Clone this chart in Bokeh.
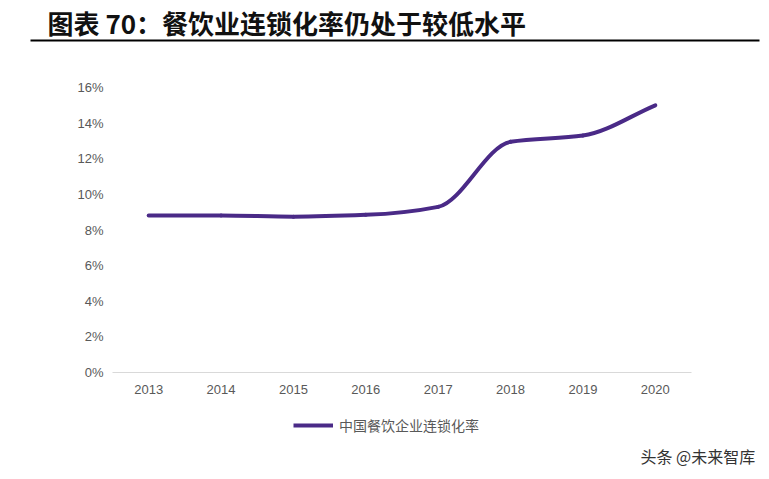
from bokeh.plotting import figure
from bokeh.models import (Range1d, FixedTicker, NumeralTickFormatter, Label, BoxAnnotation,
                          Legend, LegendItem, ColumnDataSource, LinearAxis)
from bokeh.embed import file_html
from bokeh.resources import INLINE

# ---- data ----
years = ["2013", "2014", "2015", "2016", "2017", "2018", "2019", "2020"]
chain_rate = [0.0882, 0.0882, 0.0875, 0.0885, 0.093, 0.1295, 0.133, 0.150]
y_ticks = [0, 0.02, 0.04, 0.06, 0.08, 0.10, 0.12, 0.14, 0.16]
series_name = "中国餐饮企业连锁化率"
title_text = "图表 70：餐饮业连锁化率仍处于较低水平"
watermark = "头条 @未来智库"

LINE_COLOR = "#4a2a87"
TXT = "#595959"

# canvas and plotting-area placement (pixels)
W, H = 761, 471
PL, PR, PT, PB = 112, 691, 87, 372
X0, X1 = -0.5, len(years) - 0.5
Y0, Y1 = 0.0, 0.16
sx = (PR - PL) / (X1 - X0)
sy = (PB - PT) / (Y1 - Y0)

# frame covers the whole canvas; axes are pinned inside it
p = figure(width=W, height=H, output_backend="svg", toolbar_location=None,
           x_range=Range1d(X0 - PL / sx, X1 + (W - PR) / sx),
           y_range=Range1d(Y0 - (H - PB) / sy, Y1 + PT / sy),
           min_border=0, x_axis_type=None, y_axis_type=None)
p.outline_line_color = None
p.grid.visible = False

# smoothed line: cubic bezier segments through the data points (monotone tangents)
xs = list(range(len(years)))
n = len(xs)
d = [chain_rate[i + 1] - chain_rate[i] for i in range(n - 1)]
m = [0.0] * n
m[0], m[-1] = d[0], d[-1]
for i in range(1, n - 1):
    m[i] = 0.0 if d[i - 1] * d[i] <= 0 else 2.0 / (1.0 / d[i - 1] + 1.0 / d[i])
seg = dict(x0=[], y0=[], x1=[], y1=[], cx0=[], cy0=[], cx1=[], cy1=[])
for i in range(n - 1):
    seg["x0"].append(xs[i]); seg["y0"].append(chain_rate[i])
    seg["x1"].append(xs[i + 1]); seg["y1"].append(chain_rate[i + 1])
    seg["cx0"].append(xs[i] + 1 / 3); seg["cy0"].append(chain_rate[i] + m[i] / 3)
    seg["cx1"].append(xs[i + 1] - 1 / 3); seg["cy1"].append(chain_rate[i + 1] - m[i + 1] / 3)
p.bezier(x0="x0", y0="y0", x1="x1", y1="y1", cx0="cx0", cy0="cy0", cx1="cx1", cy1="cy1",
         source=ColumnDataSource(seg), line_color=LINE_COLOR, line_width=4, line_cap="round")

# x axis pinned at y = 0
xaxis = LinearAxis(ticker=FixedTicker(ticks=xs), fixed_location=Y0, bounds=(X0, X1),
                   major_label_overrides={i: y for i, y in enumerate(years)},
                   axis_line_color="#d9d9d9", major_tick_line_color=None,
                   major_tick_out=0, major_tick_in=0, minor_tick_line_color=None,
                   major_label_standoff=12, major_label_text_font="Liberation Sans",
                   major_label_text_font_size="13px", major_label_text_color=TXT)
p.add_layout(xaxis, "below")

# y axis pinned at the left edge of the plotting area
yaxis = LinearAxis(ticker=FixedTicker(ticks=y_ticks), fixed_location=X0, bounds=(Y0, Y1),
                   formatter=NumeralTickFormatter(format="0%"),
                   axis_line_color=None, major_tick_line_color=None,
                   major_tick_out=0, major_tick_in=0, minor_tick_line_color=None,
                   major_label_standoff=9, major_label_text_font="Liberation Sans",
                   major_label_text_font_size="13px", major_label_text_color=TXT)
p.add_layout(yaxis, "left")

# legend (proxy line draws nothing)
proxy = p.line(x=[float("nan")], y=[float("nan")], line_color=LINE_COLOR, line_width=4)
legend = Legend(items=[LegendItem(label=series_name, renderers=[proxy])],
                location=(293, H - 425 - 10), orientation="horizontal",
                glyph_width=40, glyph_height=20, label_standoff=6, label_height=20,
                padding=0, margin=0, border_line_color=None, background_fill_alpha=0,
                label_text_font="Noto Sans CJK SC", label_text_font_size="14px",
                label_text_color=TXT)
p.add_layout(legend, "center")

# title, rule, watermark (screen units from the canvas bottom-left)
p.add_layout(Label(x=47, y=H - 22, x_units="screen", y_units="screen", text=title_text,
                   text_font="Noto Sans CJK SC", text_font_style="bold", text_font_size="26px",
                   text_color="#111111", text_baseline="middle", text_align="left"))
p.add_layout(BoxAnnotation(left=30, right=759, top=H - 39, bottom=H - 41,
                           left_units="screen", right_units="screen",
                           top_units="screen", bottom_units="screen",
                           fill_color="black", fill_alpha=1, line_color=None))
p.add_layout(Label(x=640, y=H - 455, x_units="screen", y_units="screen", text=watermark,
                   text_font="Noto Sans CJK SC", text_font_size="16px",
                   text_color="#333333", text_baseline="middle", text_align="left"))

open("out.html", "w").write(file_html(p, INLINE))
